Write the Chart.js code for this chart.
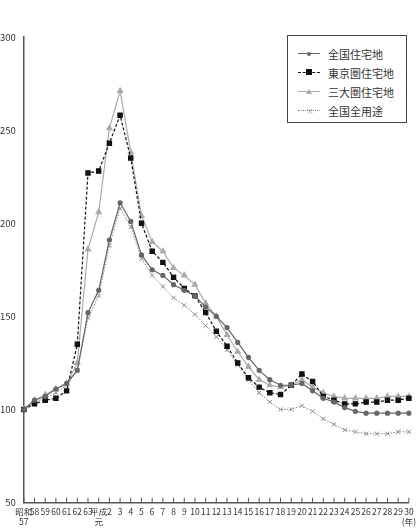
<!DOCTYPE html>
<html><head><meta charset="utf-8">
<script src="https://cdn.jsdelivr.net/npm/chart.js@4"></script>
<style>
body{margin:0;background:#fff;font-family:"Noto Sans CJK JP",sans-serif}
#wrap{position:relative;width:420px;height:531px}
#legend{position:absolute;left:287px;top:35px;width:120px;height:88px;border:1px solid #444;box-sizing:border-box;background:#fff;font-size:11px;color:#333;padding:8px 0 0 10px}
.row{display:flex;align-items:center;height:19px}
.s{width:22px;margin-right:8px;position:relative;height:0}
.m{position:absolute;left:8px;top:-4px;width:6px;height:6px}
</style></head><body>
<div id="wrap"><canvas id="c" width="420" height="531"></canvas>
<div id="legend">
<div class="row"><span class="s" style="border-top:1px solid #666"><i class="m" style="left:9px;top:-2.5px;width:4px;height:4px;border-radius:50%;background:#666"></i></span>全国住宅地</div>
<div class="row"><span class="s" style="border-top:1.5px dashed #111"><i class="m" style="background:#111;top:-4px"></i></span>東京圏住宅地</div>
<div class="row"><span class="s" style="border-top:1px solid #aaa"><i class="m" style="width:0;height:0;border-left:3px solid transparent;border-right:3px solid transparent;border-bottom:5px solid #aaa;top:-3.5px"></i></span>三大圏住宅地</div>
<div class="row"><span class="s" style="border-top:1px dotted #888"><i class="m" style="font-style:normal;font-size:8px;line-height:6px;color:#888;top:-3.5px">×</i></span>全国全用途</div>
</div></div>
<script>
// 年ラベル
const LABELS = [["昭和","57"],"58","59","60","61","62","63",["平成","元"],"2","3","4","5","6","7","8","9","10","11","12","13","14","15","16","17","18","19","20","21","22","23","24","25","26","27","28","29",["30","(年)"]];
const ZENKOKU = [100,105,107,111,114,121,152,164,191,211,201,183,175,172,167,164,161,155,150,144,136,128,121,116,113,113,114,110,106,104,101,99,98,98,98,98,98];
const TOKYO   = [100,103,105,106,110,135,227,228,243,258,235,200,185,179,171,165,161,152,142,134,125,117,112,109,108,113,119,115,107,105,103,103,104,104,105,105,106];
const SANDAI  = [100,105,108,111,114,125,186,206,251,271,238,204,190,185,176,172,167,157,150,140,131,123,116,113,112,113,116,112,109,107,106,106,106,106,107,107,107];
const ZENYOTO = [100,104,106,109,113,121,149,161,188,208,198,181,172,166,160,156,151,145,139,132,124,116,109,104,100,100,102,99,95,92,89,88,87,87,87,88,88];
const Y_TICKS = [50,100,150,200,250,300];

const config = {
    type: 'line',
    data: {
        labels: LABELS,
        datasets: [
            {label:'全国住宅地', data:ZENKOKU, borderColor:'#666', backgroundColor:'#666', borderWidth:1.2, pointStyle:'circle', pointRadius:2},
            {label:'東京圏住宅地', data:TOKYO, borderColor:'#111', backgroundColor:'#111', borderWidth:1.2, borderDash:[3,2], pointStyle:'rect', pointRadius:3},
            {label:'三大圏住宅地', data:SANDAI, borderColor:'#aaa', backgroundColor:'#aaa', borderWidth:1.2, pointStyle:'triangle', pointRadius:3},
            {label:'全国全用途', data:ZENYOTO, borderColor:'#888', backgroundColor:'#888', borderWidth:1, borderDash:[1.5,1.5], pointStyle:'crossRot', pointRadius:3},
        ],
    },
    options: {
        responsive: false,
        animation: false,
        layout: {padding: {top: 37, right: 8}},
        plugins: {legend: {display: false}, tooltip: {enabled: false}},
        scales: {
            x: {
                offset: false,
                grid: {display: false, drawTicks: false},
                border: {color: '#555', width: 1.5},
                ticks: {autoSkip: false, maxRotation: 0, padding: 4, color: '#333', font: {size: 8.5, family: '"Noto Sans CJK JP"'}},
            },
            y: {
                min: 50, max: 300,
                afterBuildTicks: (ax) => { ax.ticks = Y_TICKS.map(v => ({value: v})); },
                grid: {display: false},
                border: {color: '#555', width: 1.5},
                ticks: {color: '#333', padding: 0, font: {size: 9.5, family: '"Noto Sans CJK JP"'}},
            },
        },
    },
    plugins: [{
        // x軸の内側目盛り
        id: 'innerTicks',
        afterDraw(chart) {
            const ctx = chart.ctx, x = chart.scales.x, b = chart.chartArea.bottom;
            ctx.save(); ctx.strokeStyle = '#555'; ctx.lineWidth = 1;
            for (let i = 0; i < LABELS.length; i++) {
                const px = x.getPixelForValue(i);
                ctx.beginPath(); ctx.moveTo(px, b); ctx.lineTo(px, b - 5); ctx.stroke();
            }
            ctx.restore();
        }
    }],
};
new Chart(document.getElementById('c'), config);
</script></body></html>
